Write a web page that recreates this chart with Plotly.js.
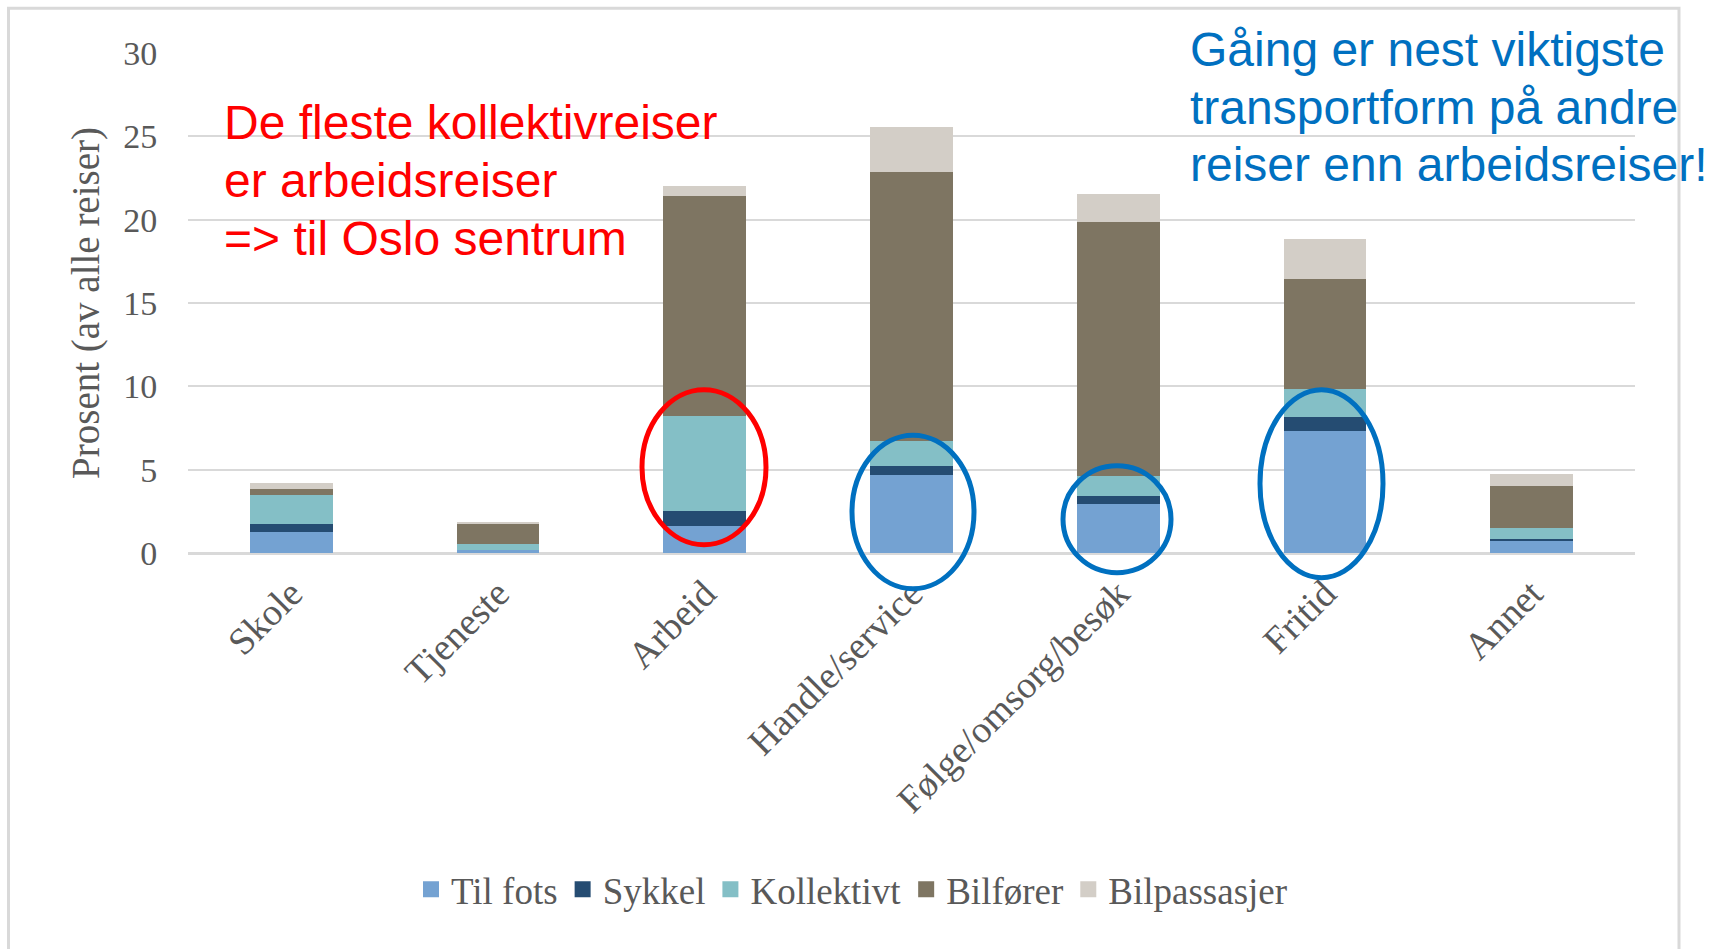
<!DOCTYPE html>
<html>
<head>
<meta charset="utf-8">
<script src="https://cdn.plot.ly/plotly-3.0.1.min.js"></script>
<style>html,body{margin:0;padding:0;background:#fff;}#chart{width:1717px;height:949px;}</style>
</head>
<body>
<div id="chart"></div>
<script>
const categories = ['Skole', 'Tjeneste', 'Arbeid', 'Handle/service', 'Følge/omsorg/besøk', 'Fritid', 'Annet'];
const tilFots     = [1.25, 0.16, 1.65, 4.71, 2.92, 7.31, 0.74];
const sykkel      = [0.50, 0.02, 0.85, 0.53, 0.48, 0.85, 0.13];
const kollektivt  = [1.72, 0.36, 5.70, 1.47, 1.24, 1.70, 0.62];
const bilforer    = [0.36, 1.23, 13.20, 16.16, 15.20, 6.58, 2.53];
const bilpassasjer= [0.38, 0.11, 0.60, 2.69, 1.70, 2.41, 0.74];
const seriesNames = ['Til fots', 'Sykkel', 'Kollektivt', 'Bilfører', 'Bilpassasjer'];
const yTickVals = [0, 5, 10, 15, 20, 25, 30];

const redLines = ['De fleste kollektivreiser', 'er arbeidsreiser', '=> til Oslo sentrum'];
const blueLines = ['Gåing er nest viktigste', 'transportform på andre', 'reiser enn arbeidsreiser!'];

const colors = ['#74A2D2', '#254C72', '#84BFC6', '#7E7562', '#D3CEC7'];
const values = [tilFots, sykkel, kollektivt, bilforer, bilpassasjer];

const traces = values.map((v, i) => ({
  type: 'bar',
  name: seriesNames[i],
  legendgroup: seriesNames[i],
  showlegend: false,
  x: categories,
  y: v,
  marker: { color: colors[i], line: { width: 0 } },
  hoverinfo: 'skip'
}));
// legend entries with larger square swatches
seriesNames.forEach((n, i) => traces.push({
  type: 'scatter', mode: 'markers', name: n, legendgroup: n,
  x: [null], y: [null],
  marker: { symbol: 'square', size: 19, color: colors[i] },
  hoverinfo: 'skip'
}));

const serif = 'Liberation Serif, DejaVu Serif, serif';
const sans = 'Liberation Sans, Arial, sans-serif';

// pixel helpers relative to plot area (left 188, width 1447; zero at 553.3, height 500)
const px = p => (p - 188) / 1447;
const py = p => (553.3 - p) / 500;

const annotations = [];
const redY = [123, 181, 239];
redLines.forEach((t, i) => annotations.push({
  xref: 'paper', yref: 'paper', x: px(222), y: py(redY[i]), xanchor: 'left', yanchor: 'middle',
  text: t, showarrow: false, font: { family: sans, size: 48, color: '#FF0000' }
}));
const blueY = [50, 108, 165];
blueLines.forEach((t, i) => annotations.push({
  xref: 'paper', yref: 'paper', x: px(1188), y: py(blueY[i]), xanchor: 'left', yanchor: 'middle',
  text: t, showarrow: false, font: { family: sans, size: 48, color: '#0070C0' }
}));

const ell = (x0, x1, y0, y1, c) => ({
  type: 'circle', xref: 'paper', yref: 'paper',
  x0: px(x0), x1: px(x1), y0: py(y1), y1: py(y0),
  line: { color: c, width: 5 }, fillcolor: 'rgba(0,0,0,0)'
});

const shapes = [
  { type: 'rect', xref: 'paper', yref: 'paper', x0: px(8.5), x1: px(1679), y0: py(8.5), y1: py(1000),
    line: { color: '#D9D9D9', width: 3 }, fillcolor: 'rgba(0,0,0,0)', layer: 'below' },
  ell(642, 766, 390, 545, '#FF0000'),
  ell(852, 974, 435.5, 589, '#0070C0'),
  ell(1063, 1171, 466, 573, '#0070C0'),
  ell(1260, 1383, 390, 578, '#0070C0')
];

const layout = {
  width: 1717, height: 949,
  margin: { l: 188, r: 82, t: 53.3, b: 395.7 },
  paper_bgcolor: '#FFFFFF',
  plot_bgcolor: 'rgba(0,0,0,0)',
  barmode: 'stack',
  bargap: 0.6,
  showlegend: true,
  legend: {
    orientation: 'h', x: px(852), xanchor: 'center', y: py(890), yanchor: 'middle',
    font: { family: serif, size: 37, color: '#595959' }, traceorder: 'normal'
  },
  xaxis: {
    type: 'category', range: [-0.5, 6.5],
    tickangle: -45, tickfont: { family: serif, size: 38, color: '#595959' },
    showgrid: false, showline: false, zeroline: false,
    ticks: 'outside', ticklen: 2, tickcolor: 'rgba(0,0,0,0)'
  },
  yaxis: {
    range: [0, 30], tickvals: yTickVals, ticktext: yTickVals.map(String),
    tickfont: { family: serif, size: 34, color: '#595959' },
    showgrid: true, gridcolor: '#D9D9D9', gridwidth: 2,
    zeroline: true, zerolinecolor: '#D9D9D9', zerolinewidth: 3,
    showline: false, ticks: 'outside', ticklen: 23, tickcolor: 'rgba(0,0,0,0)',
    title: { text: 'Prosent (av alle reiser)', font: { family: serif, size: 39, color: '#595959' }, standoff: 11 }
  },
  annotations: annotations,
  shapes: shapes
};

Plotly.newPlot('chart', traces, layout, { displayModeBar: false, staticPlot: true });
</script>
</body>
</html>
